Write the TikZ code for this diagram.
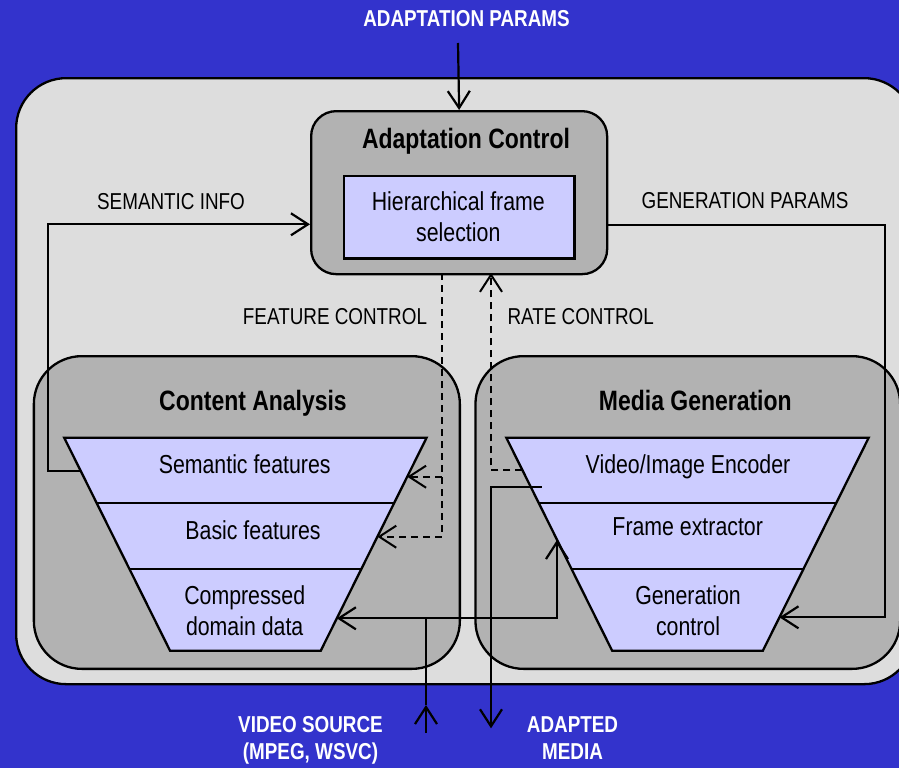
\documentclass[tikz,border=0pt]{standalone}
\usepackage{fontspec}
\setmainfont[FakeStretch=0.82]{Liberation Sans}
\usetikzlibrary{arrows.meta}
\definecolor{bgblue}{RGB}{51,51,204}
\definecolor{lgray}{RGB}{221,221,221}
\definecolor{mgray}{RGB}{178,178,178}
\definecolor{lav}{RGB}{204,204,255}
\begin{document}
\begin{tikzpicture}[x=1pt,y=-1pt,
  box/.style={draw=black,line width=2.3pt,inner sep=0pt},
  conn/.style={line width=2.2pt,line join=miter},
  tipped/.style={-{Straight Barb[length=17pt,width=22pt]}},
  ctrl/.style={line width=2pt,dash pattern=on 7pt off 5pt},
  lbl/.style={font=\fontsize{23}{27}\selectfont,inner sep=0pt,anchor=base},
  wlbl/.style={font=\bfseries\fontsize{23}{27}\selectfont,text=white,inner sep=0pt,align=center},
  hdr/.style={font=\bfseries\fontsize{28}{33}\selectfont,inner sep=0pt,anchor=base},
  txt/.style={font=\fontsize{26}{31}\selectfont,inner sep=0pt,align=center},
  funnelline/.style={line width=2.3pt,line join=miter}
]
\useasboundingbox (0,0) rectangle (899,768);
\fill[bgblue] (0,0) rectangle (899,768);

% containers
\node[box,fill=lgray,rounded corners=50pt,minimum width=898pt,minimum height=606pt,anchor=north west] (outer) at (15,77) {};
\node[box,fill=mgray,rounded corners=25pt,minimum width=296pt,minimum height=163pt,anchor=north west] (ac) at (310,110) {};
\node[box,fill=lav,minimum width=230.6pt,minimum height=82.3pt,anchor=north west,txt] (hfs) at (342.7,175) {};
\node[txt] (hfstext) at (458.3,216.7) {Hierarchical frame\\selection};
\node[box,fill=mgray,rounded corners=48pt,minimum width=426pt,minimum height=312.7pt,anchor=north west] (ca) at (32.7,355) {};
\node[box,fill=mgray,rounded corners=48pt,minimum width=424.7pt,minimum height=312.7pt,anchor=north west] (mg) at (474.3,355) {};

% headings
\node[hdr] (actitle) at (466,148.3) {Adaptation Control};
\node[hdr] (catitle) at (253,410) {Content Analysis};
\node[hdr] (mgtitle) at (695.3,410) {Media Generation};

% funnels
\begin{scope}[shift={(245.4,0)}]
  \filldraw[fill=lav,funnelline] (-181.2,437.7) -- (181.2,437.7) -- (75.35,650.7) -- (-75.35,650.7) -- cycle;
  \draw[funnelline] (-148.6,503.3) -- (148.6,503.3);
  \draw[funnelline] (-115.95,569) -- (115.95,569);
\end{scope}
\begin{scope}[shift={(687.5,0)}]
  \filldraw[fill=lav,funnelline] (-181.2,437.7) -- (181.2,437.7) -- (75.35,650.7) -- (-75.35,650.7) -- cycle;
  \draw[funnelline] (-148.6,503.3) -- (148.6,503.3);
  \draw[funnelline] (-115.95,569) -- (115.95,569);
\end{scope}

\node[txt,anchor=base] (semf) at (244.7,473.3) {Semantic features};
\node[txt,anchor=base] (basf) at (253,539.3) {Basic features};
\node[txt] (cmpd) at (244.7,610.5) {Compressed\\domain data};
\node[txt,anchor=base] (venc) at (688,473.3) {Video/Image Encoder};
\node[txt,anchor=base] (fext) at (687.7,535) {Frame extractor};
\node[txt] (genc) at (688,610.5) {Generation\\control};

% connector end points
\coordinate (apTop) at (458,43);
\coordinate (semL) at (80.6,470.7);
\coordinate (semR) at (407.2,476.7);
\coordinate (basR) at (377.4,536.7);
\coordinate (cmpR) at (336.85,618.3);
\coordinate (encL) at (522.35,470);
\coordinate (encIn) at (541.7,486.7);
\coordinate (frmL) at (557,540);
\coordinate (genR) at (779.45,617.3);
\coordinate (siIn) at (310,224.3);
\coordinate (gpOut) at (606,225);
\coordinate (fcOut) at (442,273);
\coordinate (rcIn) at (491,273);
\coordinate (vsB) at (426,733);
\coordinate (vsTip) at (426,705);
\coordinate (vsJ) at (426,618.3);
\coordinate (amTip) at (491,728.3);

% connectors
\draw[conn,tipped] (apTop) -- (ac.north);
\draw[conn,tipped] (semL) -- (48,470.7) -- (48,224.3) -- (siIn);
\draw[conn,tipped] (gpOut) -- (885,225) -- (885,617.3) -- (genR);
\draw[ctrl,tipped] (fcOut) -- (442,536.7) -- (basR);
\draw[ctrl,tipped] (442,476.7) -- (semR);
\draw[ctrl,tipped] (encL) -- (491,470) -- (rcIn);
\draw[conn,tipped] (vsB) -- (vsTip);
\draw[conn] (vsTip) -- (vsJ);
\draw[conn,tipped] (vsJ) -- (cmpR);
\draw[conn,tipped] (vsJ) -- (557,618.3) -- (frmL);
\draw[conn,tipped] (encIn) -- (491,486.7) -- (amTip);

% labels
\node[wlbl,anchor=base] (apl) at (466.5,27) {ADAPTATION PARAMS};
\node[lbl] (sil) at (171,209) {SEMANTIC INFO};
\node[lbl] (gpl) at (745,208.3) {GENERATION PARAMS};
\node[lbl] (fcl) at (335,324) {FEATURE CONTROL};
\node[lbl] (rcl) at (580.7,324) {RATE CONTROL};
\node[wlbl] (vsl) at (310.5,740.5) {VIDEO SOURCE\\(MPEG, WSVC)};
\node[wlbl] (aml) at (572.5,738.2) {ADAPTED\\MEDIA};
\end{tikzpicture}
\end{document}
